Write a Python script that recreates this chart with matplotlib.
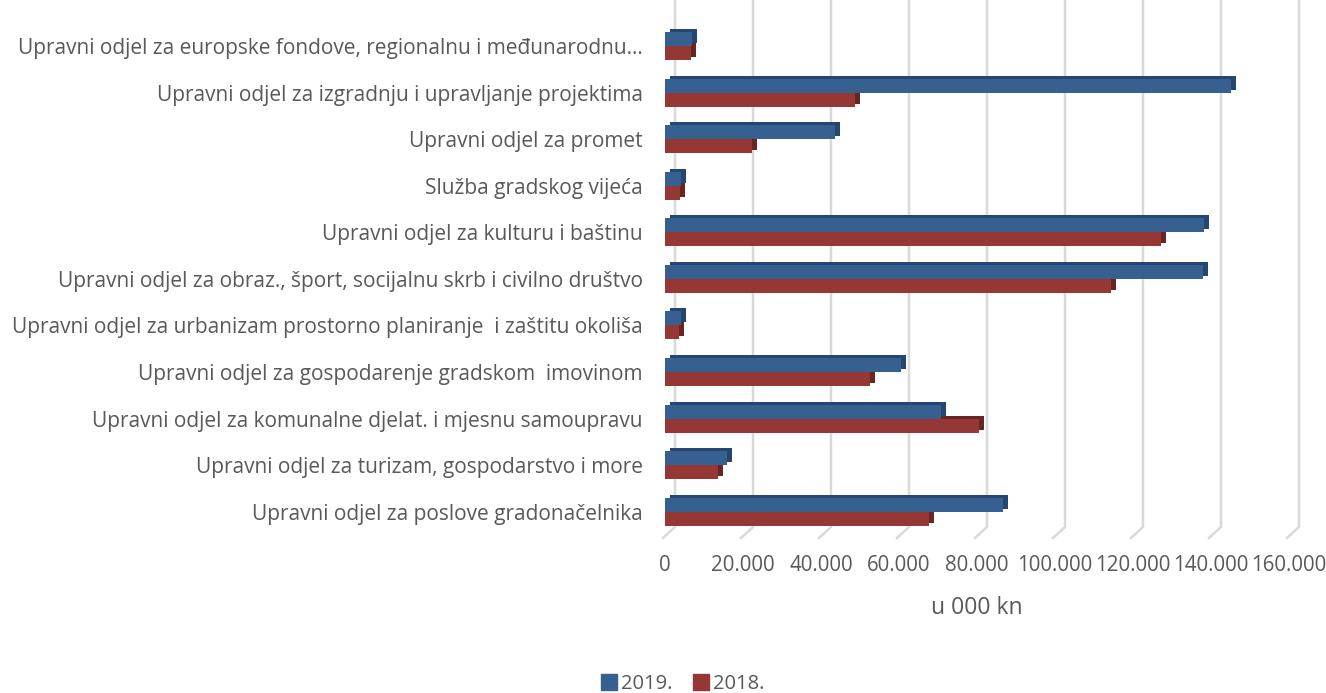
import matplotlib
matplotlib.use("Agg")
import matplotlib.pyplot as plt
import matplotlib.transforms as mtransforms
from matplotlib.lines import Line2D
from matplotlib.patches import Patch
import numpy as np

# podaci (u 000 kn), odozgo prema dolje
categories = [
    "Upravni odjel za europske fondove, regionalnu i međunarodnu…",
    "Upravni odjel za izgradnju i upravljanje projektima",
    "Upravni odjel za promet",
    "Služba gradskog vijeća",
    "Upravni odjel za kulturu i baštinu",
    "Upravni odjel za obraz., šport, socijalnu skrb i civilno društvo",
    "Upravni odjel za urbanizam prostorno planiranje  i zaštitu okoliša",
    "Upravni odjel za gospodarenje gradskom  imovinom",
    "Upravni odjel za komunalne djelat. i mjesnu samoupravu",
    "Upravni odjel za turizam, gospodarstvo i more",
    "Upravni odjel za poslove gradonačelnika",
]
values_2019 = [6900, 145100, 43600, 4200, 138100, 137900, 4200, 60500, 70800, 15900, 86700]
values_2018 = [6600, 48700, 22200, 3900, 127300, 114300, 3600, 52500, 80400, 13700, 67800]
series_labels = ["2019.", "2018."]
x_ticks = [0, 20000, 40000, 60000, 80000, 100000, 120000, 140000, 160000]

blue, blue_dark = "#35608f", "#254670"
red, red_dark = "#953735", "#6a2523"
text_col = "#595959"
font = "Open Sans"

fig = plt.figure(figsize=(13.26, 6.93), dpi=100)
ax = fig.add_axes([0.5015, 0.2237, 0.4706, 0.7763])

n = len(categories)
pos = np.arange(n)[::-1]
h = 0.3

ax.set_xlim(0, 160000)
ax.set_ylim(-0.564, n - 1 + 0.987)

# 3D efekt: tamnija kopija pomaknuta gore-desno
shift = ax.transData + mtransforms.ScaledTranslation(5 / 100, 3 / 100, fig.dpi_scale_trans)
ax.barh(pos + h / 2, values_2019, h, color=blue_dark, transform=shift, zorder=2)
ax.barh(pos - h / 2, values_2018, h, color=red_dark, transform=shift, zorder=2)
ax.barh(pos + h / 2, values_2019, h, color=blue, zorder=3)
ax.barh(pos - h / 2, values_2018, h, color=red, zorder=3)

# mreža na stražnjem zidu
for v in x_ticks:
    x0, y0 = ax.transData.transform((v, ax.get_ylim()[0]))
    _, y1 = ax.transData.transform((v, ax.get_ylim()[1]))
    line = Line2D([x0 + 10, x0 + 10, x0 - 2], [y1, y0 + 11, y0],
                  transform=mtransforms.IdentityTransform(),
                  color="#d9d9d9", lw=1.8, zorder=1, clip_on=False)
    ax.add_line(line)

ax.set_yticks(pos)
ax.set_yticklabels(categories, fontsize=15, color=text_col, family=font)
ax.set_xticks(x_ticks)
ax.set_xticklabels([f"{t:,}".replace(",", ".") for t in x_ticks],
                   fontsize=14.8, color=text_col, family=font)
ax.tick_params(axis="y", length=0, pad=16)
ax.tick_params(axis="x", length=0, pad=12)
ax.set_xlabel("u 000 kn", fontsize=16.5, color=text_col, family=font, labelpad=15)
for s in ax.spines.values():
    s.set_visible(False)

handles = [Patch(color=blue), Patch(color=red)]
fig.legend(handles, series_labels, loc="center", bbox_to_anchor=(683 / 1326, 1 - 684 / 693),
           ncol=2, frameon=False, prop={"family": font, "size": 14.5},
           labelcolor=text_col, handlelength=0.8, handleheight=0.8,
           handletextpad=0.2, columnspacing=1.0)

fig.savefig("out.png", dpi=100)
